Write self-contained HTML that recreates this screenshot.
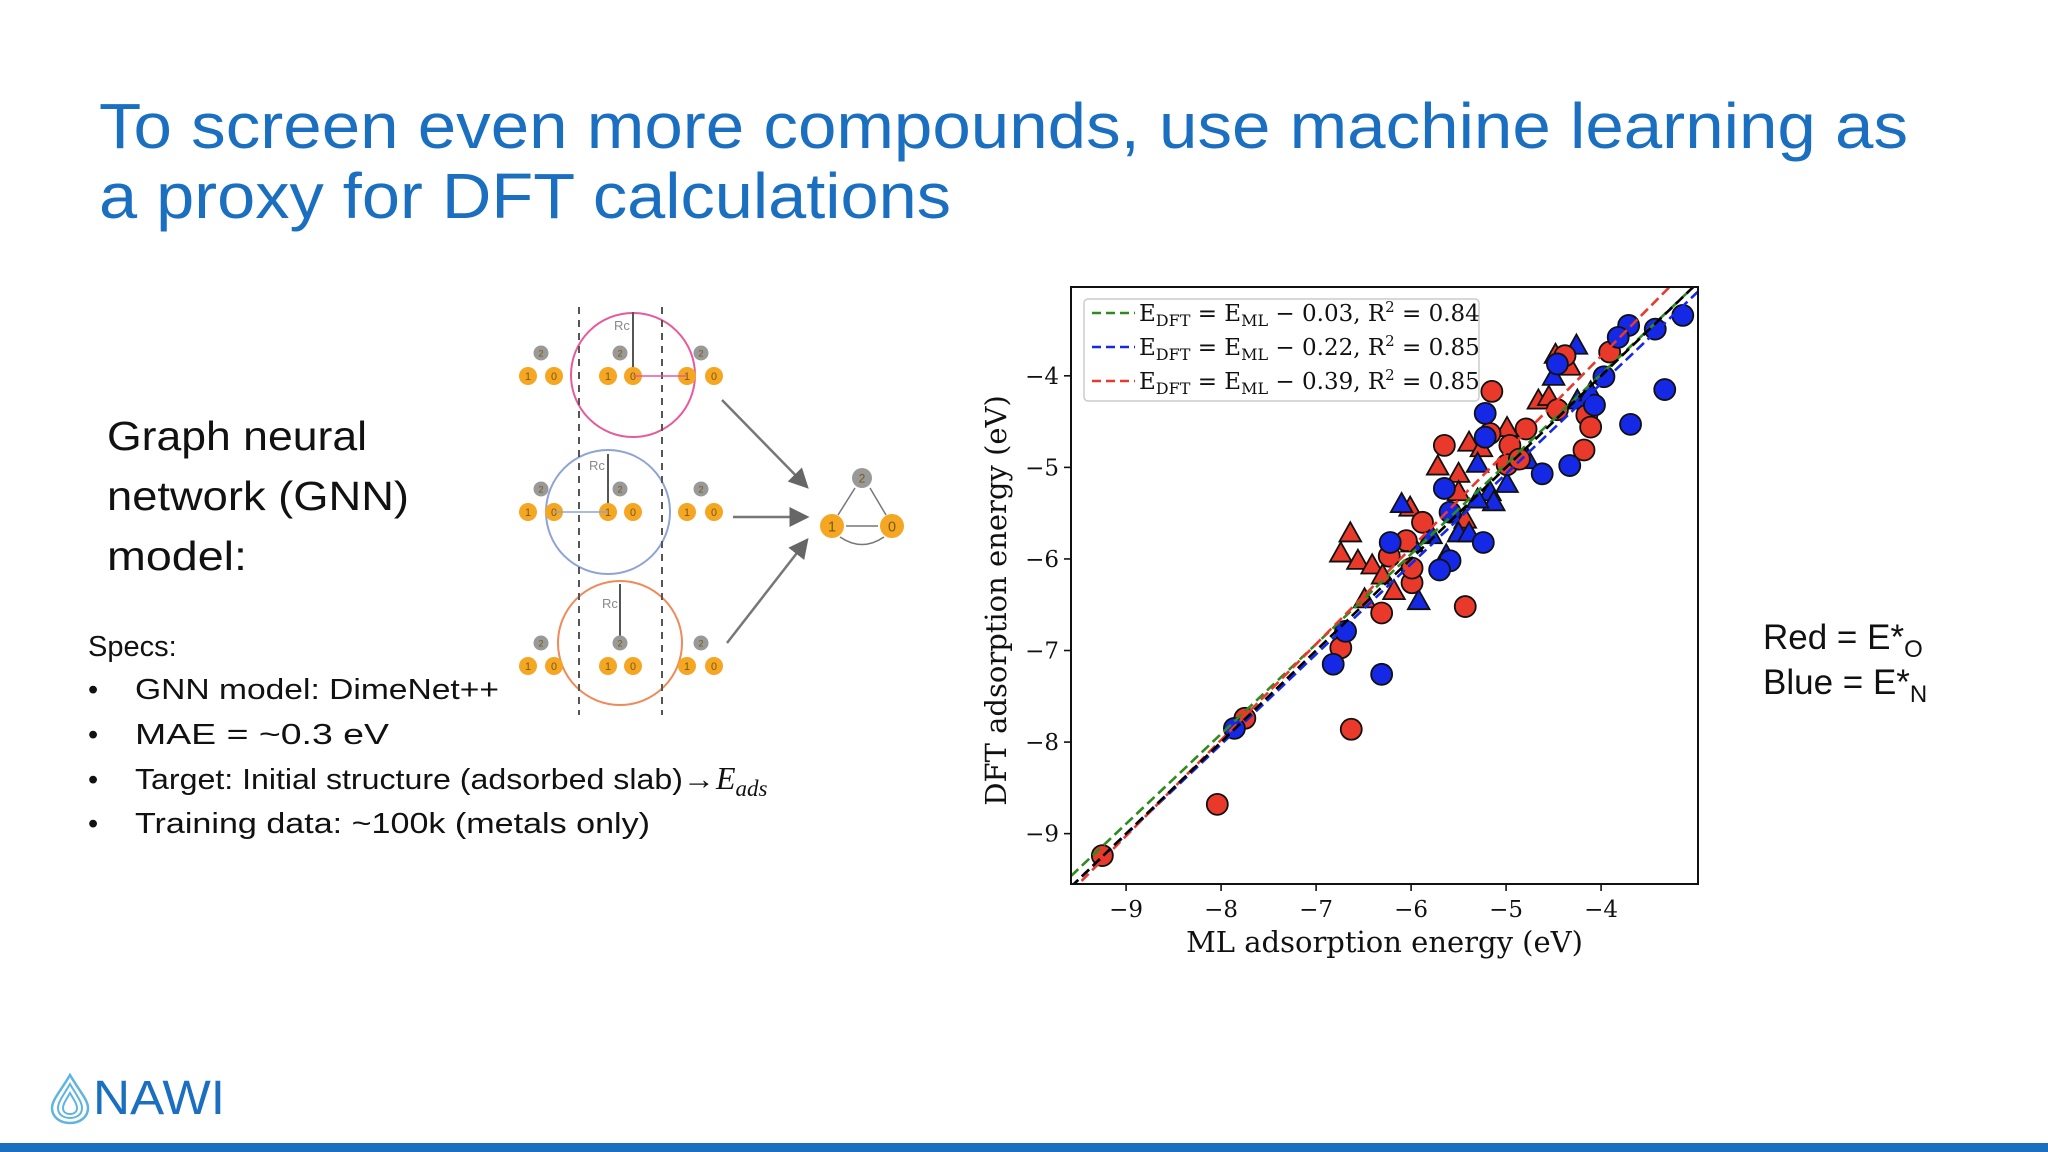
<!DOCTYPE html>
<html><head><meta charset="utf-8">
<style>
html,body{margin:0;padding:0;background:#fff;}
svg{display:block;}
.serif{font-family:"DejaVu Serif","Liberation Serif",serif;}
.sans{font-family:"Liberation Sans",sans-serif;}
</style></head>
<body>
<svg id="page" width="2048" height="1152" viewBox="0 0 2048 1152" xmlns="http://www.w3.org/2000/svg">
<rect width="2048" height="1152" fill="#fff"/>
<g class="sans" fill="#1a6fc0" font-size="64">
<text x="99" y="148" textLength="1809" lengthAdjust="spacingAndGlyphs">To screen even more compounds, use machine learning as</text>
<text x="99" y="218" textLength="852" lengthAdjust="spacingAndGlyphs">a proxy for DFT calculations</text>
</g>
<g class="sans" fill="#111" font-size="41">
<text x="107" y="450" textLength="260" lengthAdjust="spacingAndGlyphs">Graph neural</text>
<text x="107" y="510" textLength="302" lengthAdjust="spacingAndGlyphs">network (GNN)</text>
<text x="107" y="570" textLength="140" lengthAdjust="spacingAndGlyphs">model:</text>
</g>
<g class="sans" fill="#111" font-size="29">
<text x="88" y="656">Specs:</text>
<text x="88" y="699">•</text><text x="135" y="699" textLength="364" lengthAdjust="spacingAndGlyphs">GNN model: DimeNet++</text>
<text x="88" y="744">•</text><text x="135" y="744" textLength="254" lengthAdjust="spacingAndGlyphs">MAE = ~0.3 eV</text>
<text x="88" y="789">•</text><text x="135" y="789" textLength="580" lengthAdjust="spacingAndGlyphs">Target: Initial structure (adsorbed slab)→</text><text x="716" y="789" font-family="Liberation Serif,serif" font-style="italic" font-size="32">E<tspan font-size="23" dy="7">ads</tspan></text>
<text x="88" y="833">•</text><text x="135" y="833" textLength="515" lengthAdjust="spacingAndGlyphs">Training data: ~100k  (metals only)</text>
</g>
<g id="gnn"></g>
<g id="chart"></g>
<g class="sans" fill="#111" font-size="35">
<text x="1763" y="649">Red = E*<tspan font-size="24" dy="8">O</tspan></text>
<text x="1763" y="694">Blue = E*<tspan font-size="24" dy="8">N</tspan></text>
</g>
<g>
<path d="M70 1075 C60 1092 52 1100 52 1108 C52 1117 60 1123 70 1123 C80 1123 88 1117 88 1108 C88 1100 80 1092 70 1075 Z" fill="none" stroke="#5fb4e0" stroke-width="2.5"/>
<path d="M70 1084 C63 1096 58 1102 58 1108 C58 1115 64 1118 70 1118 C76 1118 82 1115 82 1108 C82 1102 77 1096 70 1084 Z" fill="none" stroke="#5fb4e0" stroke-width="2"/>
<path d="M70 1093 C66 1100 63 1104 63 1108 C63 1112 66 1114 70 1114 C74 1114 77 1112 77 1108 C77 1104 74 1100 70 1093 Z" fill="none" stroke="#5fb4e0" stroke-width="2"/>
<text x="93" y="1114" class="sans" font-size="48" fill="#1a6fc0" textLength="132" lengthAdjust="spacingAndGlyphs">NAWI</text>
</g>
<rect x="0" y="1143" width="2048" height="9" fill="#1a6fc0"/>
</svg>
<script>
// ---------- chart data ----------
const redCircleX = [-9.25,-7.75,-8.04,-6.63,-6.74,-6.31,-5.43,-5.99,-5.99,-6.23,-6.05,-5.88,-5.65,-5.15,-5.17,-4.96,-4.99,-4.86,-4.79,-4.38,-3.91,-4.15,-4.11,-4.18,-4.46];
const redCircleY = [-9.24,-7.74,-8.68,-7.86,-6.97,-6.59,-6.52,-6.26,-6.10,-5.97,-5.80,-5.60,-4.76,-4.17,-4.63,-4.76,-4.97,-4.91,-4.58,-3.78,-3.74,-4.43,-4.56,-4.81,-4.37];
const blueCircleX = [-3.14,-3.43,-3.71,-3.82,-3.97,-3.33,-3.69,-4.07,-4.33,-4.62,-5.22,-5.22,-5.65,-5.59,-5.24,-5.59,-5.70,-6.22,-6.69,-6.82,-6.31,-7.86,-4.46];
const blueCircleY = [-3.34,-3.49,-3.45,-3.58,-4.01,-4.15,-4.53,-4.32,-4.98,-5.07,-4.41,-4.67,-5.23,-5.49,-5.82,-6.02,-6.12,-5.82,-6.79,-7.15,-7.26,-7.85,-3.87];
const redTriX = [-6.64,-6.74,-6.56,-6.41,-6.30,-6.18,-6.49,-6.01,-5.72,-5.50,-5.50,-5.39,-5.26,-4.99,-4.66,-4.55,-4.48,-4.33,-5.48,-5.43];
const redTriY = [-5.73,-5.95,-6.03,-6.08,-6.19,-6.36,-6.45,-5.45,-5.00,-5.08,-5.28,-4.74,-4.80,-4.58,-4.28,-4.24,-3.78,-3.91,-5.69,-5.58];
const blueTriX = [-4.26,-4.50,-4.25,-4.11,-4.77,-4.99,-5.17,-5.13,-5.30,-5.30,-6.10,-5.79,-5.50,-5.39,-5.63,-5.92,-5.99];
const blueTriY = [-3.68,-4.02,-4.28,-4.19,-4.93,-5.19,-5.28,-5.39,-4.97,-5.36,-5.41,-5.75,-5.73,-5.73,-5.97,-6.47,-5.84];
const fitNames = ["identity","green-fit","blue-fit","red-fit"];
const fitSlopes = [1.0, 0.982, 0.985, 1.048];
const fitIntercepts = [0.0, -0.055, -0.145, 0.407];
const xTicks = [-9,-8,-7,-6,-5,-4];
const yTicks = [-9,-8,-7,-6,-5,-4];
const legendLabels = [["0.03","0.84"],["0.22","0.85"],["0.39","0.85"]];

// ---------- geometry ----------
const PL=1071, PR=1698, PT=287, PB=884;
const XMIN=-9.58, XMAX=-2.98, YMIN=-9.55, YMAX=-3.03;
const sx = v => PL + (v-XMIN)/(XMAX-XMIN)*(PR-PL);
const sy = v => PB - (v-YMIN)/(YMAX-YMIN)*(PB-PT);
const NS="http://www.w3.org/2000/svg";
function mk(tag, attrs, parent){const e=document.createElementNS(NS,tag);for(const k in attrs)e.setAttribute(k,attrs[k]);parent.appendChild(e);return e;}
const chart=document.getElementById('chart');
const RED="#e8392b", BLUE="#1428e6";
const fitColors=["#000","#2e8b1e","#1428e6","#e8392b"];

const clip=mk('clipPath',{id:'pclip'},chart);
mk('rect',{x:PL,y:PT,width:PR-PL,height:PB-PT},clip);
const marks=mk('g',{'clip-path':'url(#pclip)'},chart);



function circles(xs,ys,col,name){
  xs.forEach((x,i)=>{
    const c=mk('circle',{cx:sx(x),cy:sy(ys[i]),r:10.5,fill:col,stroke:'#111','stroke-width':1.8},marks);
    
    
  });
}
function tris(xs,ys,col,name){
  xs.forEach((x,i)=>{
    const cx=sx(x), cy=sy(ys[i]), r=12;
    const p=mk('polygon',{points:`${cx},${cy-r} ${cx-r*0.9},${cy+r*0.6} ${cx+r*0.9},${cy+r*0.6}`,fill:col,stroke:'#111','stroke-width':1.8},marks);
    
    
  });
}
tris(redTriX,redTriY,RED,'red-triangle-point');
tris(blueTriX,blueTriY,BLUE,'blue-triangle-point');
circles(redCircleX,redCircleY,RED,'red-circle-point');
circles(blueCircleX,blueCircleY,BLUE,'blue-circle-point');
// fit lines drawn on top
[1,2,3,0].forEach(i=>{
  const x0=XMIN, x1=XMAX;
  const l=mk('line',{x1:sx(x0),y1:sy(fitSlopes[i]*x0+fitIntercepts[i]),x2:sx(x1),y2:sy(fitSlopes[i]*x1+fitIntercepts[i]),stroke:fitColors[i],'stroke-width':2.6,'stroke-dasharray':'10,5'},marks);
  
  
});
const frame=mk('rect',{x:PL,y:PT,width:PR-PL,height:PB-PT,fill:'none',stroke:'#111','stroke-width':2},chart);



const xAxis=mk('g',{class:'serif','font-size':23,fill:'#111'},chart);


xTicks.forEach(t=>{
  mk('line',{x1:sx(t),x2:sx(t),y1:PB,y2:PB+7,stroke:'#111','stroke-width':1.6},xAxis);
  const tx=mk('text',{x:sx(t),y:PB+33,'text-anchor':'middle'},xAxis);
  tx.textContent='\u2212'+Math.abs(t);
  
  
});
const yAxis=mk('g',{class:'serif','font-size':23,fill:'#111'},chart);


yTicks.forEach(t=>{
  mk('line',{x1:PL-7,x2:PL,y1:sy(t),y2:sy(t),stroke:'#111','stroke-width':1.6},yAxis);
  const ty=mk('text',{x:PL-12,y:sy(t)+8,'text-anchor':'end'},yAxis);
  ty.textContent='\u2212'+Math.abs(t);
  
  
});
const xt=mk('text',{x:(PL+PR)/2,y:952,'text-anchor':'middle',class:'serif','font-size':29,fill:'#111'},chart);
xt.textContent='ML adsorption energy (eV)';


const yt=mk('text',{x:0,y:0,'text-anchor':'middle',class:'serif','font-size':29,fill:'#111',transform:`translate(1006,${(PT+PB)/2+15}) rotate(-90)`},chart);
yt.textContent='DFT adsorption energy (eV)';



// legend
const leg=mk('g',{},chart);


mk('rect',{x:1084,y:299,width:395,height:102,rx:4,fill:'#fff','fill-opacity':0.85,stroke:'#ccc','stroke-width':1.5},leg);
legendLabels.forEach((lab,i)=>{
  const y=313+i*34;
  const e=mk('g',{},leg);
  
  
  mk('line',{x1:1092,x2:1135,y1:y,y2:y,stroke:fitColors[i+1],'stroke-width':2.6,'stroke-dasharray':'9,5'},e);
  const t=mk('text',{x:1139,y:y+8,class:'serif','font-size':23,fill:'#111'},e);
  t.innerHTML=`E<tspan font-size="16" dy="5">DFT</tspan><tspan dy="-5"> = E</tspan><tspan font-size="16" dy="5">ML</tspan><tspan dy="-5"> \u2212 ${lab[0]}, R</tspan><tspan font-size="15" dy="-9">2</tspan><tspan dy="9"> = ${lab[1]}</tspan>`;
});

// ---------- GNN diagram ----------
const g=document.getElementById('gnn');
const ORANGE="#f5a623";
[[633,375,'#e85a9a'],[608,512,'#8ea4d6'],[620,643,'#ef8a5a']].forEach(c=>{
  const e=mk('circle',{cx:c[0],cy:c[1],r:62,fill:'none',stroke:c[2],'stroke-width':2},g);
  
  
});
[579,662].forEach(x=>mk('line',{x1:x,x2:x,y1:307,y2:715,stroke:'#555','stroke-width':2,'stroke-dasharray':'7,6'},g));
[[633,312,633,375],[608,454,608,512],[620,584,620,643]].forEach(a=>mk('line',{x1:a[0],y1:a[1],x2:a[2],y2:a[3],stroke:'#555','stroke-width':2},g));
[[614,330],[589,470],[602,608]].forEach(p=>{const t=mk('text',{x:p[0],y:p[1],'font-size':13,fill:'#888',class:'sans'},g);t.textContent='Rc';});
function node(x,y,r,fill,label){
  mk('circle',{cx:x,cy:y,r:r,fill:fill},g);
  const t=mk('text',{x:x,y:y+r*0.45,'text-anchor':'middle','font-size':r*1.2,fill:'#7a5a10',class:'sans'},g);
  t.textContent=label;
}
[376,512,666].forEach((y,ri)=>{
  [[528,'1'],[554,'0'],[608,'1'],[633,'0'],[687,'1'],[714,'0']].forEach(n=>node(n[0],y,9,ORANGE,n[1]));
});
[353,489,643].forEach(y=>[541,620,701].forEach(x=>node(x,y,7.5,'#999','2')));
mk('line',{x1:633,y1:376,x2:687,y2:376,stroke:'#e85a9a','stroke-width':1.5},g);
mk('line',{x1:554,y1:512,x2:608,y2:512,stroke:'#8ea4d6','stroke-width':1.5},g);
mk('defs',{},g).innerHTML='<marker id="ah" markerWidth="8" markerHeight="8" refX="7" refY="4" orient="auto"><path d="M0,0 L8,4 L0,8 Z" fill="#666"/></marker>';
[[722,400,807,487],[733,517,807,517],[727,643,807,540]].forEach(a=>{
  const l=mk('line',{x1:a[0],y1:a[1],x2:a[2],y2:a[3],stroke:'#777','stroke-width':2.5,'marker-end':'url(#ah)'},g);
});
mk('line',{x1:846,y1:526,x2:878,y2:526,stroke:'#777','stroke-width':1.5},g);
mk('line',{x1:838,y1:515,x2:855,y2:488,stroke:'#777','stroke-width':1.5},g);
mk('line',{x1:870,y1:488,x2:886,y2:515,stroke:'#777','stroke-width':1.5},g);
mk('path',{d:'M840 537 Q862 552 884 537',fill:'none',stroke:'#777','stroke-width':1.5},g);
node(832,526,12,ORANGE,'1');
node(892,526,12,ORANGE,'0');
node(862,478,10,'#999','2');
</script>
</body></html>
